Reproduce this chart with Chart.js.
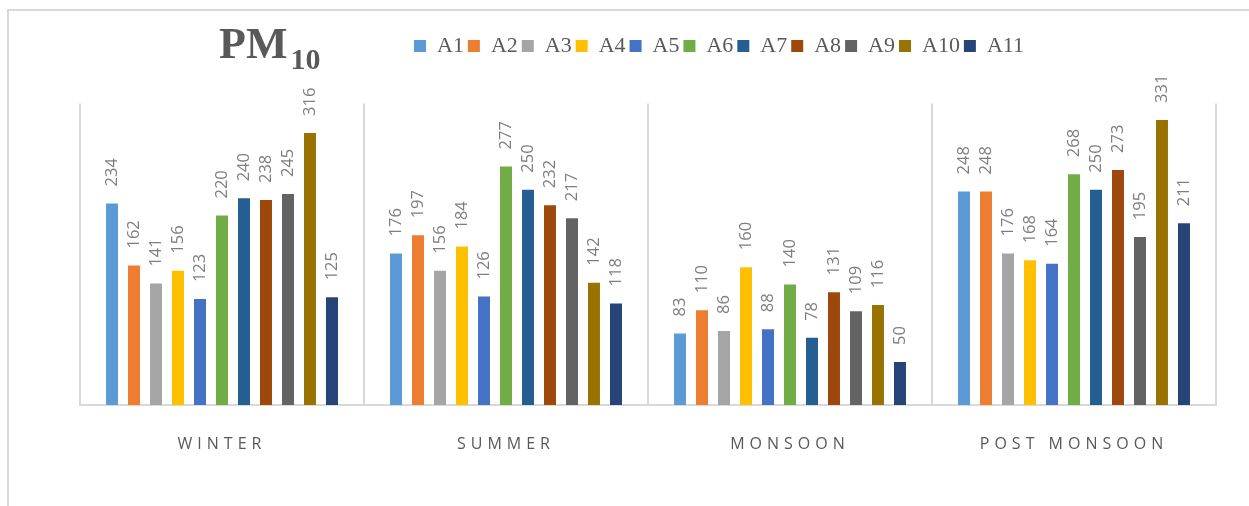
<!DOCTYPE html>
<html>
<head>
<meta charset="utf-8">
<title>PM10</title>
<script src="https://cdn.jsdelivr.net/npm/chart.js@4.4.1/dist/chart.umd.min.js"></script>
<style>
body { margin: 0; background: #fff; }
#wrap { position: relative; width: 1249px; height: 506px; }
#frame { position: absolute; left: 7px; top: 9px; right: 0; bottom: 0; border-left: 2px solid #d9d9d9; border-top: 2px solid #d9d9d9; }
canvas { position: absolute; left: 0; top: 0; }
</style>
</head>
<body>
<div id="wrap"><div id="frame"></div><canvas id="pmChart" width="1249" height="506"></canvas></div>
<script>
const seasons = ['WINTER', 'SUMMER', 'MONSOON', 'POST MONSOON'];
const stations = ['A1', 'A2', 'A3', 'A4', 'A5', 'A6', 'A7', 'A8', 'A9', 'A10', 'A11'];

// one array per station: winter, summer, monsoon, post monsoon
const A1 = [234, 176, 83, 248];
const A2 = [162, 197, 110, 248];
const A3 = [141, 156, 86, 176];
const A4 = [156, 184, 160, 168];
const A5 = [123, 126, 88, 164];
const A6 = [220, 277, 140, 268];
const A7 = [240, 250, 78, 250];
const A8 = [238, 232, 131, 273];
const A9 = [245, 217, 109, 195];
const A10 = [316, 142, 116, 331];
const A11 = [125, 118, 50, 211];
const seriesValues = [A1, A2, A3, A4, A5, A6, A7, A8, A9, A10, A11];

const colors = ['#5b9bd5', '#ed7d31', '#a5a5a5', '#ffc000', '#4472c4', '#70ad47',
  '#255e91', '#9e480e', '#636363', '#997300', '#264478'];

// value labels, letter spaced category names, and the PM10 title
const pmExtras = {
  id: 'pmExtras',
  afterLayout(chart) {
    const lg = chart.legend;
    const pad = lg.options.labels.padding;
    const dx = 414 - (lg.left + pad);
    const dy = 35 - (lg.top + pad);
    lg.left += dx; lg.right += dx;
    lg.top += dy; lg.bottom += dy;
  },
  afterDatasetsDraw(chart) {
    const ctx = chart.ctx;
    ctx.save();
    ctx.font = '16.5px "Open Sans"';
    ctx.fillStyle = '#7f7f7f';
    ctx.textAlign = 'left';
    ctx.textBaseline = 'middle';
    chart.data.datasets.forEach((ds, i) => {
      chart.getDatasetMeta(i).data.forEach((bar, j) => {
        ctx.save();
        ctx.translate(bar.x, bar.y - 17);
        ctx.rotate(-Math.PI / 2);
        ctx.fillText(String(ds.data[j]), 0, 0);
        ctx.restore();
      });
    });
    ctx.restore();
    ctx.letterSpacing = '5px';
  },
  afterDraw(chart) {
    const ctx = chart.ctx;
    ctx.letterSpacing = '0px';
    ctx.save();
    ctx.fillStyle = '#595959';
    ctx.textBaseline = 'alphabetic';
    ctx.font = 'bold 44px "Liberation Serif"';
    ctx.fillText('PM', 219, 58);
    const w = ctx.measureText('PM').width;
    ctx.font = 'bold 30px "Liberation Serif"';
    ctx.fillText('10', 219 + w + 3, 69);
    ctx.restore();
  }
};

const ctx = document.getElementById('pmChart').getContext('2d');
const pmChart = new Chart(ctx, {
  type: 'bar',
  data: {
    labels: seasons,
    datasets: stations.map((name, i) => ({
      label: name,
      data: seriesValues[i],
      backgroundColor: colors[i],
      categoryPercentage: 0.852,
      barPercentage: 0.545
    }))
  },
  options: {
    responsive: false,
    animation: false,
    devicePixelRatio: 1,
    layout: { padding: { top: 67.6, left: 80, right: 33, bottom: 21.8 } },
    plugins: {
      title: { display: false },
      tooltip: { enabled: false },
      legend: {
        position: 'top',
        align: 'start',
        labels: {
          boxWidth: 12,
          boxHeight: 12,
          padding: 4,
          color: '#595959',
          font: { family: 'Liberation Serif', size: 22 }
        }
      }
    },
    scales: {
      x: {
        grid: { offset: true, drawTicks: false, color: '#d9d9d9', lineWidth: 2 },
        border: { color: '#d9d9d9', width: 2 },
        ticks: { color: '#595959', font: { family: 'Open Sans', size: 16 }, padding: 30, z: 1 }
      },
      y: { display: false, min: 0, max: 350 }
    }
  },
  plugins: [pmExtras]
});
</script>
</body>
</html>
